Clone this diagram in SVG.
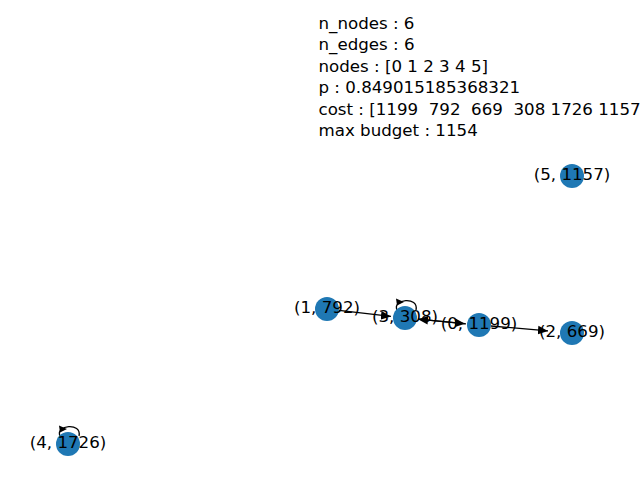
<svg xmlns="http://www.w3.org/2000/svg" width="640" height="480" viewBox="0 0 640 480">
<style>
text{font-family:"DejaVu Sans","Liberation Sans",sans-serif;font-size:16.67px;fill:#000}
.info{white-space:pre}
.lbl{text-anchor:middle}
.node circle{fill:#1f78b4}
.edge{stroke:#000;stroke-width:1.3;fill:none}
.head{fill:#000}
</style>
<defs>
<marker id="arr" markerUnits="userSpaceOnUse" markerWidth="10" markerHeight="10" viewBox="0 -4 8 8" refX="8" refY="0" orient="auto">
<path d="M0,-3.5 L8,0 L0,3.5 z" fill="#000"/>
</marker>
</defs>
<rect width="640" height="480" fill="#fff"/>
<g id="info">
<text class="info" x="318.5" y="29">n_nodes : 6</text>
<text class="info" x="318.5" y="50.4">n_edges : 6</text>
<text class="info" x="318.5" y="71.8">nodes : [0 1 2 3 4 5]</text>
<text class="info" x="318.5" y="93.2">p : 0.849015185368321</text>
<text class="info" x="318.5" y="114.6">cost : [1199  792  669  308 1726 1157</text>
<text class="info" x="318.5" y="136">max budget : 1154</text>
</g>
<g id="connectors">
<line class="edge" x1="339" y1="310.4" x2="391" y2="316.4" marker-end="url(#arr)"/>
<line class="edge" x1="418" y1="319.2" x2="465" y2="323.7" marker-end="url(#arr)"/>
<line class="edge" x1="466" y1="323.8" x2="418" y2="319.2" marker-end="url(#arr)"/>
<line class="edge" x1="491" y1="326" x2="548" y2="330.9" marker-end="url(#arr)"/>
<path class="edge" d="M397,310 C392,299 419,296 416,310"/>
<polygon class="head" points="404,302 396,298.5 397,305.5"/>
<path class="edge" d="M60,436 C55,425 82,422 79,436"/>
<polygon class="head" points="67,429 59,425.5 60,432.5"/>
</g>
<g id="node0" class="node"><circle cx="479" cy="325" r="12"/><text class="lbl" x="479" y="328.5">(0, 1199)</text></g>
<g id="node1" class="node"><circle cx="327" cy="309" r="12"/><text class="lbl" x="327" y="312.5">(1, 792)</text></g>
<g id="node2" class="node"><circle cx="572" cy="333" r="12"/><text class="lbl" x="572" y="336.5">(2, 669)</text></g>
<g id="node3" class="node"><circle cx="405" cy="318" r="12"/><text class="lbl" x="405" y="321.5">(3, 308)</text></g>
<g id="node4" class="node"><circle cx="68" cy="444" r="12"/><text class="lbl" x="68" y="447.5">(4, 1726)</text></g>
<g id="node5" class="node"><circle cx="572" cy="176" r="12"/><text class="lbl" x="572" y="179.5">(5, 1157)</text></g>
</svg>
